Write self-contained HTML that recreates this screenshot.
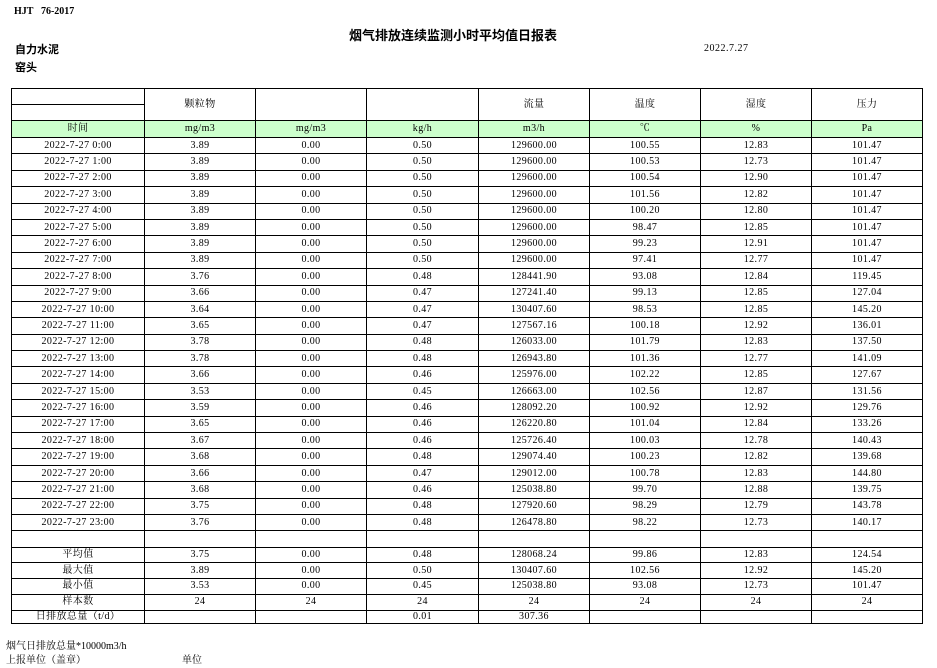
<!DOCTYPE html>
<html><head><meta charset="utf-8"><style>
body{margin:0;width:937px;height:668px;background:#fff;position:relative;font-family:"Liberation Serif","Noto Serif CJK SC",serif;color:#000;overflow:hidden}
.a{position:absolute;white-space:nowrap}
table{position:absolute;left:11px;top:88px;border-collapse:collapse;table-layout:fixed;font-size:10px;letter-spacing:0.4px}
td{border:1px solid #000;padding:0;text-align:center;line-height:10px;overflow:hidden;white-space:nowrap}
tr.d td{height:15.4px}
tr.s td{height:14.7px}
tr.g td{background:#ccffcc;height:16px}
</style></head><body>
<div class="a" style="left:14px;top:6px;font-size:10px;font-weight:bold">HJT&nbsp;&nbsp;&nbsp;76-2017</div>
<div class="a" style="left:349px;top:25px;font-size:13px;font-weight:bold;font-family:'Noto Sans CJK SC',sans-serif">烟气排放连续监测小时平均值日报表</div>
<div class="a" style="left:15px;top:41px;font-size:11px;font-weight:bold;font-family:'Noto Sans CJK SC',sans-serif">自力水泥</div>
<div class="a" style="left:15px;top:59px;font-size:11px;font-weight:bold;font-family:'Noto Sans CJK SC',sans-serif">窑头</div>
<div class="a" style="left:704px;top:43px;font-size:10px;letter-spacing:0.5px">2022.7.27</div>
<table>
<colgroup><col style="width:133px"><col style="width:111px"><col style="width:111px"><col style="width:112px"><col style="width:111px"><col style="width:111px"><col style="width:111px"><col style="width:111px"></colgroup>
<tr><td style="height:15px"></td><td rowspan="2">颗粒物</td><td rowspan="2"></td><td rowspan="2"></td><td rowspan="2">流量</td><td rowspan="2">温度</td><td rowspan="2">湿度</td><td rowspan="2">压力</td></tr>
<tr><td style="height:15px"></td></tr>
<tr class="g"><td>时间</td><td>mg/m3</td><td>mg/m3</td><td>kg/h</td><td>m3/h</td><td>℃</td><td>%</td><td>Pa</td></tr>
<tr class="d"><td>2022-7-27 0:00</td><td>3.89</td><td>0.00</td><td>0.50</td><td>129600.00</td><td>100.55</td><td>12.83</td><td>101.47</td></tr>
<tr class="d"><td>2022-7-27 1:00</td><td>3.89</td><td>0.00</td><td>0.50</td><td>129600.00</td><td>100.53</td><td>12.73</td><td>101.47</td></tr>
<tr class="d"><td>2022-7-27 2:00</td><td>3.89</td><td>0.00</td><td>0.50</td><td>129600.00</td><td>100.54</td><td>12.90</td><td>101.47</td></tr>
<tr class="d"><td>2022-7-27 3:00</td><td>3.89</td><td>0.00</td><td>0.50</td><td>129600.00</td><td>101.56</td><td>12.82</td><td>101.47</td></tr>
<tr class="d"><td>2022-7-27 4:00</td><td>3.89</td><td>0.00</td><td>0.50</td><td>129600.00</td><td>100.20</td><td>12.80</td><td>101.47</td></tr>
<tr class="d"><td>2022-7-27 5:00</td><td>3.89</td><td>0.00</td><td>0.50</td><td>129600.00</td><td>98.47</td><td>12.85</td><td>101.47</td></tr>
<tr class="d"><td>2022-7-27 6:00</td><td>3.89</td><td>0.00</td><td>0.50</td><td>129600.00</td><td>99.23</td><td>12.91</td><td>101.47</td></tr>
<tr class="d"><td>2022-7-27 7:00</td><td>3.89</td><td>0.00</td><td>0.50</td><td>129600.00</td><td>97.41</td><td>12.77</td><td>101.47</td></tr>
<tr class="d"><td>2022-7-27 8:00</td><td>3.76</td><td>0.00</td><td>0.48</td><td>128441.90</td><td>93.08</td><td>12.84</td><td>119.45</td></tr>
<tr class="d"><td>2022-7-27 9:00</td><td>3.66</td><td>0.00</td><td>0.47</td><td>127241.40</td><td>99.13</td><td>12.85</td><td>127.04</td></tr>
<tr class="d"><td>2022-7-27 10:00</td><td>3.64</td><td>0.00</td><td>0.47</td><td>130407.60</td><td>98.53</td><td>12.85</td><td>145.20</td></tr>
<tr class="d"><td>2022-7-27 11:00</td><td>3.65</td><td>0.00</td><td>0.47</td><td>127567.16</td><td>100.18</td><td>12.92</td><td>136.01</td></tr>
<tr class="d"><td>2022-7-27 12:00</td><td>3.78</td><td>0.00</td><td>0.48</td><td>126033.00</td><td>101.79</td><td>12.83</td><td>137.50</td></tr>
<tr class="d"><td>2022-7-27 13:00</td><td>3.78</td><td>0.00</td><td>0.48</td><td>126943.80</td><td>101.36</td><td>12.77</td><td>141.09</td></tr>
<tr class="d"><td>2022-7-27 14:00</td><td>3.66</td><td>0.00</td><td>0.46</td><td>125976.00</td><td>102.22</td><td>12.85</td><td>127.67</td></tr>
<tr class="d"><td>2022-7-27 15:00</td><td>3.53</td><td>0.00</td><td>0.45</td><td>126663.00</td><td>102.56</td><td>12.87</td><td>131.56</td></tr>
<tr class="d"><td>2022-7-27 16:00</td><td>3.59</td><td>0.00</td><td>0.46</td><td>128092.20</td><td>100.92</td><td>12.92</td><td>129.76</td></tr>
<tr class="d"><td>2022-7-27 17:00</td><td>3.65</td><td>0.00</td><td>0.46</td><td>126220.80</td><td>101.04</td><td>12.84</td><td>133.26</td></tr>
<tr class="d"><td>2022-7-27 18:00</td><td>3.67</td><td>0.00</td><td>0.46</td><td>125726.40</td><td>100.03</td><td>12.78</td><td>140.43</td></tr>
<tr class="d"><td>2022-7-27 19:00</td><td>3.68</td><td>0.00</td><td>0.48</td><td>129074.40</td><td>100.23</td><td>12.82</td><td>139.68</td></tr>
<tr class="d"><td>2022-7-27 20:00</td><td>3.66</td><td>0.00</td><td>0.47</td><td>129012.00</td><td>100.78</td><td>12.83</td><td>144.80</td></tr>
<tr class="d"><td>2022-7-27 21:00</td><td>3.68</td><td>0.00</td><td>0.46</td><td>125038.80</td><td>99.70</td><td>12.88</td><td>139.75</td></tr>
<tr class="d"><td>2022-7-27 22:00</td><td>3.75</td><td>0.00</td><td>0.48</td><td>127920.60</td><td>98.29</td><td>12.79</td><td>143.78</td></tr>
<tr class="d"><td>2022-7-27 23:00</td><td>3.76</td><td>0.00</td><td>0.48</td><td>126478.80</td><td>98.22</td><td>12.73</td><td>140.17</td></tr>
<tr class="d"><td></td><td></td><td></td><td></td><td></td><td></td><td></td><td></td></tr>
<tr class="s"><td>平均值</td><td>3.75</td><td>0.00</td><td>0.48</td><td>128068.24</td><td>99.86</td><td>12.83</td><td>124.54</td></tr>
<tr class="s"><td>最大值</td><td>3.89</td><td>0.00</td><td>0.50</td><td>130407.60</td><td>102.56</td><td>12.92</td><td>145.20</td></tr>
<tr class="s"><td>最小值</td><td>3.53</td><td>0.00</td><td>0.45</td><td>125038.80</td><td>93.08</td><td>12.73</td><td>101.47</td></tr>
<tr class="s"><td>样本数</td><td>24</td><td>24</td><td>24</td><td>24</td><td>24</td><td>24</td><td>24</td></tr>
<tr><td style="height:12px">日排放总量（t/d）</td><td></td><td></td><td>0.01</td><td>307.36</td><td></td><td></td><td></td></tr>
</table>
<div class="a" style="left:6px;top:637px;font-size:10px">烟气日排放总量*10000m3/h</div>
<div class="a" style="left:6px;top:651px;font-size:10px">上报单位（盖章）</div>
<div class="a" style="left:182px;top:651px;font-size:10px">单位</div>
</body></html>
